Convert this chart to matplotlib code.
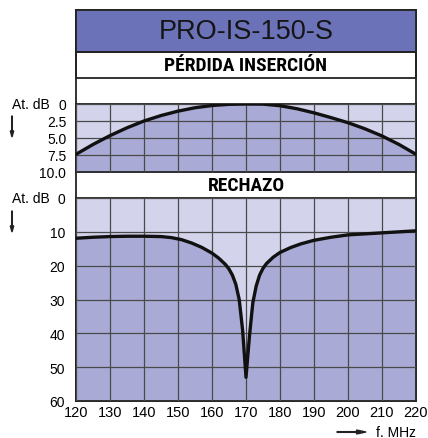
import numpy as np
import matplotlib
matplotlib.use("Agg")
import matplotlib.pyplot as plt
from matplotlib.patches import Rectangle, FancyArrow

# datos
f_ins = [120, 125, 130, 135, 140, 145, 150, 155, 160, 165, 170, 175, 180, 185, 190, 195, 200, 205, 210, 215, 220]
perdida = [7.4, 5.95, 4.65, 3.5, 2.5, 1.7, 1.05, 0.55, 0.22, 0.05, 0.0, 0.02, 0.25, 0.7, 1.3, 2.0, 2.75, 3.65, 4.7, 5.95, 7.4]

f_rech = [120, 125, 130, 135, 140, 145, 148, 151, 154, 157, 160, 162, 164, 165, 166, 167, 168, 169, 170,
          171, 172, 173, 174, 175, 176, 178, 180, 183, 186, 190, 195, 200, 205, 210, 215, 220]
rechazo = [11.9, 11.6, 11.4, 11.3, 11.3, 11.4, 11.7, 12.3, 13.3, 14.6, 16.3, 17.8, 19.7, 21.0, 22.8, 25.5, 30.0, 39.0, 53.0,
           41.0, 31.0, 26.0, 22.8, 20.8, 19.4, 17.5, 16.1, 14.7, 13.6, 12.5, 11.6, 10.9, 10.6, 10.3, 10.0, 9.7]

xticks = list(range(120, 221, 10))
yticks_ins = [0, 2.5, 5.0, 7.5, 10.0]
ylabels_ins = ["0", "2.5", "5.0", "7.5", "10.0"]
yticks_rech = [0, 10, 20, 30, 40, 50, 60]

claro = "#d3d3ec"
oscuro = "#a9abd6"
azul = "#6b72b8"
rejilla = "#4a4a4a"

W, H = 428, 439
plt.rcParams['font.family'] = ['Liberation Sans', 'DejaVu Sans']
fig = plt.figure(figsize=(W / 100, H / 100), dpi=100)

def fx(px):
    return px / W

def fy(py):
    return 1 - py / H

x0, x1 = 76, 416
narrow = ['Roboto Condensed', 'Liberation Sans Narrow', 'DejaVu Sans']

# marco y bandas
fig.patches.append(Rectangle((fx(x0), fy(402)), fx(x1 - x0), (402 - 11) / H,
                             transform=fig.transFigure, facecolor="white", edgecolor="#222222", lw=1.3, zorder=0))
fig.patches.append(Rectangle((fx(x0), fy(53)), fx(x1 - x0), (53 - 11) / H,
                             transform=fig.transFigure, facecolor=azul, edgecolor="#222222", lw=1.3, zorder=0.5))
fig.patches.append(Rectangle((fx(x0), fy(79)), fx(x1 - x0), (79 - 53) / H,
                             transform=fig.transFigure, facecolor="none", edgecolor="#222222", lw=1.3, zorder=0.5))
fig.text(fx((x0 + x1) / 2), fy(32), "PRO-IS-150-S", ha="center", va="center", fontsize=19.5, color="#151515")
fig.text(fx((x0 + x1) / 2), fy(66), "PÉRDIDA INSERCIÓN", ha="center", va="center",
         fontsize=14, fontweight="bold", family=narrow, fontstretch="condensed")
fig.text(fx((x0 + x1) / 2), fy(186), "RECHAZO", ha="center", va="center",
         fontsize=14, fontweight="bold", family=narrow, fontstretch="condensed")

def panel(top, bot, f, y, ymax, yt, yl):
    ax = fig.add_axes([fx(x0), fy(bot), fx(x1 - x0), (bot - top) / H])
    ax.set_zorder(2)
    ax.set_facecolor(claro)
    ax.fill_between(f, y, ymax, color=oscuro, lw=0)
    ax.plot(f, y, color="#111111", lw=2.4, zorder=5)
    ax.set_xlim(120, 220)
    ax.set_ylim(ymax, 0)
    ax.set_xticks(xticks)
    ax.set_yticks(yt)
    ax.set_yticklabels(yl)
    ax.grid(True, color=rejilla, lw=0.9)
    ax.set_axisbelow(False)
    for s in ax.spines.values():
        s.set_color("#222222")
        s.set_linewidth(1.3)
    ax.tick_params(length=0, labelsize=10, pad=7)
    return ax

ax1 = panel(105, 173, f_ins, perdida, 10.0, yticks_ins, ylabels_ins)
ax1.set_xticklabels([])
ax2 = panel(199, 402, f_rech, rechazo, 60, yticks_rech, [str(v) for v in yticks_rech])
ax2.tick_params(axis="x", pad=3, labelsize=10.5)
ax2.tick_params(axis="y", pad=8)

# etiquetas de ejes
fig.text(fx(12), fy(105), "At. dB", ha="left", va="center", fontsize=10)
fig.text(fx(12), fy(199), "At. dB", ha="left", va="center", fontsize=10)
for ytop in (117, 212):
    fig.patches.append(FancyArrow(fx(12), fy(ytop), 0, -(21 / H), width=0.0015,
                                  head_width=0.008, head_length=0.014,
                                  transform=fig.transFigure, color="#222222",
                                  length_includes_head=True))
fig.patches.append(FancyArrow(fx(337), fy(433), 29 / W, 0, width=0.0016,
                              head_width=0.009, head_length=0.022,
                              transform=fig.transFigure, color="#222222",
                              length_includes_head=True))
fig.text(fx(376), fy(433), "f. MHz", ha="left", va="center", fontsize=10)

fig.savefig("out.png", dpi=100)
